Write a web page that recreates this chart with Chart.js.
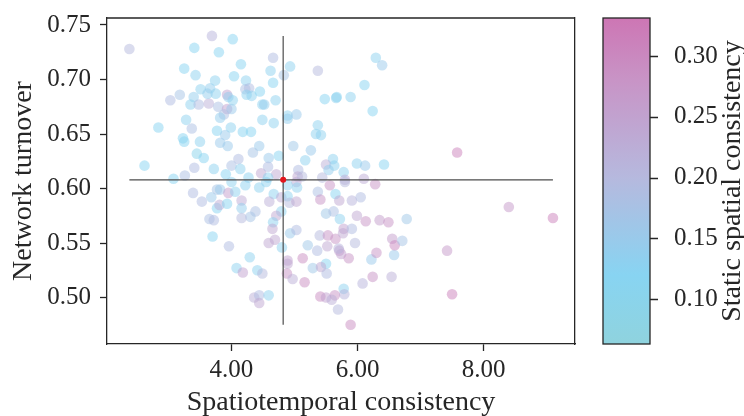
<!DOCTYPE html>
<html>
<head>
<meta charset="utf-8">
<script src="https://cdn.jsdelivr.net/npm/chart.js@4.4.1/dist/chart.umd.min.js"></script>
<style>
  html, body { margin: 0; padding: 0; background: #fff; }
  #wrap { width: 744px; height: 416px; }
</style>
</head>
<body>
<div id="wrap"><canvas id="scatterChart"></canvas></div>
<script>
// Nilai dibaca dari gambar referensi
const spatiotemporal = [
  2.38,3.69,4.02,3.41,3.80,3.25,4.15,3.43,3.74,4.04,
  4.23,3.51,3.66,3.18,3.03,3.40,3.35,3.48,3.64,3.62,
  3.75,3.93,3.95,4.02,3.79,3.93,4.00,3.88,3.82,4.22,
  4.28,4.24,4.32,4.45,4.49,4.49,2.84,3.28,3.37,3.77,
  3.90,3.99,4.18,4.31,3.23,3.25,3.50,3.82,3.94,4.44,
  3.45,3.56,4.34,4.11,2.62,3.41,3.72,4.00,4.14,3.08,
  3.26,3.91,4.27,4.47,4.66,4.62,4.93,5.37,4.83,4.66,
  6.29,6.39,4.52,4.70,4.67,4.89,4.89,5.03,5.48,5.67,
  5.66,5.89,6.11,6.24,5.37,5.34,5.42,4.98,5.26,4.59,
  4.75,5.17,5.61,5.50,5.63,5.54,5.99,6.12,6.42,5.78,
  4.58,4.71,5.06,5.05,5.12,5.44,5.80,6.10,4.58,7.58,
  4.00,4.22,4.44,3.39,3.68,3.77,3.82,3.95,4.06,3.53,
  3.77,3.81,3.93,4.16,4.16,4.38,4.30,4.16,3.65,3.72,
  3.70,3.96,4.29,4.08,4.18,4.41,4.49,4.36,4.44,4.44,
  4.55,5.03,4.89,5.04,5.56,5.80,6.28,5.37,5.65,4.67,
  4.79,4.89,4.60,4.92,5.03,5.41,5.71,5.91,6.05,4.79,
  4.71,5.50,5.62,5.72,5.99,6.13,6.35,6.49,6.78,4.66,
  4.65,4.93,5.03,4.69,4.59,4.80,5.21,5.40,5.53,5.36,
  5.52,5.65,5.78,5.77,5.91,5.96,5.71,5.74,5.86,5.70,
  4.89,4.89,5.13,5.50,5.29,5.42,5.51,4.88,4.97,5.16,
  6.22,6.30,6.58,6.55,6.59,6.71,6.08,6.24,6.54,5.78,
  5.79,5.41,5.50,5.64,5.59,5.69,5.89,4.59,8.40,9.10,
  7.42,7.50
];
const networkTurnover = [
  0.728,0.740,0.737,0.729,0.725,0.710,0.714,0.704,0.699,0.703,
  0.699,0.691,0.692,0.686,0.681,0.684,0.677,0.677,0.678,0.687,
  0.687,0.686,0.684,0.681,0.675,0.673,0.673,0.668,0.665,0.691,
  0.692,0.686,0.685,0.689,0.677,0.663,0.656,0.663,0.655,0.653,
  0.649,0.656,0.652,0.652,0.646,0.643,0.643,0.642,0.639,0.639,
  0.632,0.628,0.633,0.627,0.621,0.619,0.618,0.621,0.618,0.609,
  0.612,0.613,0.610,0.614,0.720,0.708,0.712,0.708,0.704,0.697,
  0.720,0.713,0.677,0.681,0.660,0.667,0.664,0.668,0.682,0.684,
  0.683,0.684,0.695,0.671,0.658,0.650,0.649,0.639,0.635,0.628,
  0.630,0.626,0.627,0.622,0.621,0.617,0.623,0.621,0.622,0.615,
  0.620,0.613,0.617,0.611,0.611,0.610,0.608,0.609,0.610,0.633,
  0.606,0.603,0.601,0.596,0.592,0.599,0.599,0.596,0.597,0.588,
  0.582,0.585,0.586,0.589,0.582,0.579,0.574,0.573,0.572,0.571,
  0.556,0.547,0.537,0.527,0.523,0.525,0.522,0.500,0.502,0.495,
  0.606,0.606,0.603,0.601,0.603,0.606,0.604,0.597,0.595,0.595,
  0.592,0.593,0.588,0.587,0.588,0.590,0.589,0.589,0.592,0.579,
  0.575,0.577,0.579,0.572,0.575,0.570,0.571,0.569,0.572,0.569,
  0.563,0.559,0.562,0.553,0.550,0.546,0.548,0.557,0.557,0.543,
  0.547,0.554,0.563,0.559,0.563,0.550,0.543,0.540,0.536,0.545,
  0.534,0.531,0.536,0.531,0.527,0.528,0.522,0.522,0.517,0.514,
  0.535,0.541,0.539,0.554,0.548,0.552,0.513,0.519,0.519,0.508,
  0.503,0.501,0.500,0.502,0.498,0.489,0.475,0.502,0.583,0.573,
  0.543,0.503
];
const staticSpatial = [
  0.20,0.21,0.12,0.12,0.12,0.12,0.12,0.13,0.13,0.12,
  0.13,0.13,0.14,0.17,0.19,0.14,0.13,0.19,0.22,0.14,
  0.13,0.25,0.14,0.13,0.18,0.25,0.15,0.18,0.14,0.18,
  0.19,0.13,0.13,0.12,0.13,0.13,0.12,0.13,0.18,0.12,
  0.15,0.13,0.12,0.12,0.12,0.12,0.13,0.15,0.15,0.15,
  0.10,0.12,0.17,0.19,0.12,0.19,0.13,0.18,0.13,0.12,
  0.18,0.12,0.13,0.24,0.19,0.13,0.13,0.20,0.17,0.12,
  0.13,0.15,0.14,0.13,0.13,0.13,0.14,0.15,0.12,0.12,
  0.13,0.13,0.12,0.12,0.13,0.13,0.13,0.16,0.15,0.15,
  0.12,0.13,0.13,0.22,0.13,0.14,0.13,0.15,0.12,0.13,
  0.19,0.24,0.19,0.24,0.20,0.20,0.23,0.23,0.13,0.31,
  0.13,0.13,0.13,0.19,0.15,0.17,0.15,0.26,0.13,0.19,
  0.12,0.23,0.12,0.23,0.14,0.18,0.17,0.20,0.18,0.19,
  0.12,0.19,0.13,0.13,0.25,0.13,0.20,0.22,0.19,0.24,
  0.13,0.23,0.13,0.13,0.28,0.20,0.28,0.18,0.12,0.13,
  0.23,0.13,0.22,0.20,0.24,0.28,0.24,0.21,0.19,0.13,
  0.24,0.16,0.18,0.13,0.24,0.28,0.26,0.28,0.16,0.13,
  0.24,0.15,0.19,0.24,0.24,0.13,0.16,0.20,0.28,0.19,
  0.24,0.28,0.25,0.24,0.19,0.20,0.26,0.25,0.28,0.21,
  0.25,0.24,0.29,0.12,0.16,0.24,0.19,0.28,0.22,0.29,
  0.15,0.28,0.15,0.26,0.30,0.17,0.21,0.28,0.22,0.13,
  0.21,0.29,0.25,0.28,0.22,0.20,0.29,0.13,0.27,0.31,
  0.27,0.31
];
const meanPoint = { x: 4.82, y: 0.608 };
const xTicks = [4, 6, 8];
const yTicks = [0.50, 0.55, 0.60, 0.65, 0.70, 0.75];
const cbTicks = [0.10, 0.15, 0.20, 0.25, 0.30];
const xRange = [2.025, 9.45];
const yRange = [0.4574, 0.7564];
const cbRange = [0.0632, 0.3313];
const xTitle = 'Spatiotemporal consistency';
const yTitle = 'Network turnover';
const cbTitle = 'Static spatial consistency';

// Warna colormap (biru muda -> merah muda)
const cmapStops = [
    [0.0632, [143, 211, 222]],
    [0.12, [136, 212, 242]],
    [0.20, [182, 185, 222]],
    [0.28, [200, 148, 198]],
    [0.3313, [205, 118, 180]]
];
const cmap = (v, alpha) => {
    let i = 0;
    while (i < cmapStops.length - 2 && v > cmapStops[i + 1][0]) i++;
    const [v0, c0] = cmapStops[i];
    const [v1, c1] = cmapStops[i + 1];
    const t = Math.min(1, Math.max(0, (v - v0) / (v1 - v0)));
    const c = c0.map((ch, k) => Math.round(ch + (c1[k] - ch) * t));
    return `rgba(${c[0]},${c[1]},${c[2]},${alpha})`;
};

const ink = '#262626';
const fontFamily = '"Liberation Serif", "Times New Roman", serif';
Chart.defaults.font.family = fontFamily;
Chart.defaults.color = ink;

const points = spatiotemporal.map((x, i) => ({ x, y: networkTurnover[i] }));
const pointColors = staticSpatial.map(v => cmap(v, 0.5));
const minX = Math.min(...spatiotemporal), maxX = Math.max(...spatiotemporal);
const minY = Math.min(...networkTurnover), maxY = Math.max(...networkTurnover);

const fixedTicks = (values) => (scale) => { scale.ticks = values.map(v => ({ value: v })); };

const frameAndColorbar = {
    id: 'frameAndColorbar',
    afterDraw(chart) {
        const { ctx, chartArea: a, scales: { cb } } = chart;
        const top = cb.getPixelForValue(cb.max);
        const bottom = cb.getPixelForValue(cb.min);
        const left = a.right + 28, width = 47;
        const grad = ctx.createLinearGradient(0, bottom, 0, top);
        cmapStops.forEach(([v, c]) => {
            grad.addColorStop((v - cb.min) / (cb.max - cb.min), `rgb(${c.join(',')})`);
        });
        ctx.save();
        ctx.fillStyle = grad;
        ctx.fillRect(left, top, width, bottom - top);
        ctx.strokeStyle = ink;
        ctx.lineWidth = 1.3;
        ctx.strokeRect(left, top, width, bottom - top);
        // tick colorbar
        ctx.beginPath();
        cbTicks.forEach(v => {
            const y = Math.round(cb.getPixelForValue(v)) + 0.5;
            ctx.moveTo(left + width, y);
            ctx.lineTo(left + width + 8, y);
        });
        // garis atas frame
        ctx.moveTo(a.left, a.top);
        ctx.lineTo(a.right, a.top);
        ctx.stroke();
        // judul colorbar
        ctx.translate(733, (top + bottom) / 2);
        ctx.rotate(-Math.PI / 2);
        ctx.fillStyle = ink;
        ctx.font = `28px ${fontFamily}`;
        ctx.textAlign = 'center';
        ctx.textBaseline = 'middle';
        ctx.fillText(cbTitle, 0, 0);
        ctx.restore();
    }
};

new Chart(document.getElementById('scatterChart'), {
    type: 'scatter',
    data: {
        datasets: [
            {
                data: [meanPoint],
                backgroundColor: '#e3151d',
                pointRadius: 3,
                borderWidth: 0,
                order: 0
            },
            {
                type: 'line',
                data: [{ x: minX, y: meanPoint.y }, { x: maxX, y: meanPoint.y }],
                borderColor: '#4d4d4d',
                borderWidth: 1.2,
                pointRadius: 0,
                order: 1
            },
            {
                type: 'line',
                data: [{ x: meanPoint.x, y: minY }, { x: meanPoint.x, y: maxY }],
                borderColor: '#4d4d4d',
                borderWidth: 1.2,
                pointRadius: 0,
                order: 1
            },
            {
                data: points,
                backgroundColor: pointColors,
                pointRadius: 5.3,
                borderWidth: 0,
                order: 2
            }
        ]
    },
    options: {
        responsive: true,
        maintainAspectRatio: false,
        animation: false,
        events: [],
        layout: { padding: { top: 18, left: 0, right: 0, bottom: 0 } },
        plugins: {
            legend: { display: false },
            tooltip: { enabled: false }
        },
        scales: {
            x: {
                type: 'linear',
                min: xRange[0],
                max: xRange[1],
                afterBuildTicks: fixedTicks(xTicks),
                afterFit: (s) => { s.height = 72; s.paddingLeft = 0; s.paddingRight = 0; },
                grid: { drawOnChartArea: false, drawTicks: true, tickLength: 7, color: ink, tickWidth: 1.3 },
                border: { display: true, color: ink, width: 1.3 },
                ticks: {
                    padding: 4,
                    font: { size: 25 },
                    callback: (v) => Number(v).toFixed(2)
                },
                title: { display: true, text: xTitle, font: { size: 28, lineHeight: 0.95 }, padding: { top: 0, bottom: 0 } }
            },
            y: {
                type: 'linear',
                min: yRange[0],
                max: yRange[1],
                afterBuildTicks: fixedTicks(yTicks),
                afterFit: (s) => { s.width = 107; s.paddingTop = 0; s.paddingBottom = 0; },
                grid: { drawOnChartArea: false, drawTicks: true, tickLength: 7, color: ink, tickWidth: 1.3 },
                border: { display: true, color: ink, width: 1.3 },
                ticks: {
                    padding: 9,
                    font: { size: 25 },
                    callback: (v) => Number(v).toFixed(2)
                },
                title: { display: true, text: yTitle, font: { size: 28, lineHeight: 1 }, padding: { top: 10, bottom: 0 } }
            },
            cb: {
                type: 'linear',
                axis: 'y',
                position: 'right',
                min: cbRange[0],
                max: cbRange[1],
                afterBuildTicks: fixedTicks(cbTicks),
                afterFit: (s) => { s.width = 169; s.paddingTop = 0; s.paddingBottom = 0; },
                grid: { display: false },
                border: { display: true, color: ink, width: 1.3 },
                ticks: {
                    padding: 91,
                    font: { size: 25 },
                    callback: (v) => Number(v).toFixed(2)
                }
            }
        }
    },
    plugins: [frameAndColorbar]
});
</script>
</body>
</html>
